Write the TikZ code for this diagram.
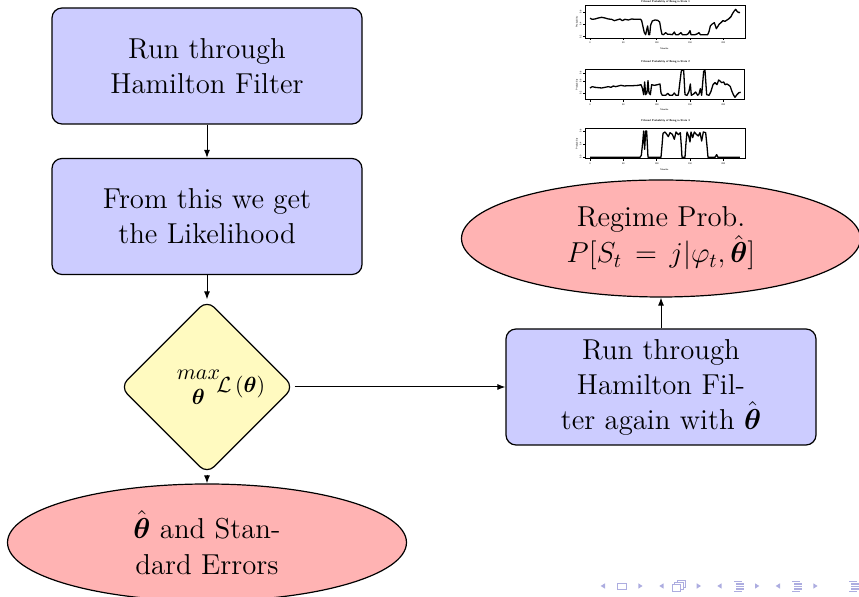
\documentclass[tikz,border=0pt]{standalone}
\usepackage{amsmath}
\usepackage{fontspec}
\usetikzlibrary{shapes.geometric,arrows.meta}
\definecolor{boxblue}{RGB}{204,204,255}
\definecolor{ellpink}{RGB}{255,179,179}
\definecolor{diayellow}{RGB}{255,250,192}
\definecolor{navcol}{RGB}{173,173,224}
\begin{document}
\begin{tikzpicture}[x=0.5pt,y=-0.5pt,
  procbox/.style={draw=black, line width=0.6pt, fill=boxblue, rounded corners=5pt,
    minimum width=155pt, minimum height=58pt, inner sep=0pt, align=center,
    font=\fontsize{14.4}{17.5}\selectfont},
  termell/.style={ellipse, draw=black, line width=0.6pt, fill=ellpink,
    minimum width=199.5pt, minimum height=58.5pt, inner sep=0pt, align=center,
    font=\fontsize{14.4}{18}\selectfont},
  decdia/.style={diamond, draw=black, line width=0.6pt, fill=diayellow, rounded corners=5pt,
    minimum width=87pt, minimum height=87pt, inner sep=0pt,
    font=\fontsize{10.5}{12}\selectfont},
  flow/.style={-{Latex[length=4pt,width=3pt]}, line width=0.5pt},
  rcurve/.style={line width=0.65pt, line join=round},
  rframe/.style={line width=0.3pt},
  rtitle/.style={font=\fontsize{1.35}{1.6}\selectfont\sffamily\bfseries, inner sep=0pt},
  rlab/.style={font=\fontsize{1.2}{1.4}\selectfont\sffamily, inner sep=0pt},
  navtri/.style={fill=navcol, draw=none}
]
\useasboundingbox (0,0) rectangle (859,597);

% ---------- flow chart nodes ----------
\node[procbox] (b1) at (207,66) {Run through\\Hamilton Filter};
\node[procbox] (b2) at (207,216.5) {From this we get\\the Likelihood};
\node[decdia] (d) at (207,387) {\makebox[0pt]{\hspace{14pt}$\begin{array}{@{}c@{}}max\\[0.5pt]\boldsymbol{\theta}\end{array}\!\mathcal{L}\left(\boldsymbol{\theta}\right)$}};
\node[termell] (e1) at (207,542.5) {$\hat{\boldsymbol{\theta}}$ and Stan-\\dard Errors};
\node[procbox] (b3) at (661,387) {Run through\\Hamilton Fil-\\ter again with $\hat{\boldsymbol{\theta}}$};
\node[termell] (e2) at (661,238.5) {Regime Prob.\\$P[S_t\,=\,j|\varphi_t,\hat{\boldsymbol{\theta}}]$};

\draw[flow] (b1) -- (b2);
\draw[flow] (b2) -- (d);
\draw[flow] (d) -- (e1);
\draw[flow] (d) -- (b3);
\draw[flow] (b3) -- (e2);

% ---------- plot 1 ----------
\begin{scope}[shift={(575,0)},scale=1/3]
  \draw[rframe] (30,17) rectangle (510,115);
  \draw[rcurve] plot coordinates {(45,55) (52,58) (60,57) (70,54) (80,52) (90,54) (100,57) (110,58) (118,62) (125,60) (135,57) (142,62) (150,58) (160,60) (170,57) (180,58) (190,58) (197,58) (200,62) (204,80) (208,98) (212,104) (215,90) (218,78) (221,104) (224,104) (227,75) (232,63) (240,60) (248,61) (254,66) (258,90) (261,103) (266,104) (272,98) (278,103) (285,103) (292,104) (298,96) (302,104) (310,104) (318,98) (322,104) (335,104) (340,101) (345,92) (348,104) (360,104) (366,102) (372,98) (376,104) (390,104) (398,104) (402,95) (406,78) (412,72) (418,68) (424,86) (428,80) (433,72) (438,68) (444,62) (450,64) (456,60) (462,56) (468,50) (472,42) (477,34) (482,28) (487,35) (492,38) (495,37)};
  \node[rtitle] (t1) at (272,5) {Filtered Probability of Being in State 1};
  \foreach \xx/\lab in {45/0,145/50,245/100,345/150,445/200} {
    \draw[rframe] (\xx,115) -- (\xx,121);
    \node[rlab] at (\xx,129) {\lab};
  }
  \foreach \yy/\lab in {37/0.6,73/0.4,110/0.2} {
    \draw[rframe] (30,\yy) -- (24,\yy);
    \node[rlab,rotate=90] at (17,\yy) {\lab};
  }
  \node[rlab] (m1) at (268,145) {Months};
  \node[rlab,rotate=90] (p1) at (6,66) {Probability};
\end{scope}

% ---------- plot 2 ----------
\begin{scope}[shift={(575,58)},scale=1/3]
  \draw[rframe] (30,35) rectangle (507,125);
  \draw[rcurve] plot coordinates {(45,90) (52,86) (60,88) (70,89) (80,90) (90,88) (100,86) (108,88) (115,84) (122,86) (130,84) (138,82) (148,84) (160,83) (175,83) (190,82) (198,80) (202,90) (206,110) (209,72) (212,110) (216,104) (219,68) (222,105) (226,110) (230,80) (238,82) (248,80) (255,78) (258,105) (262,112) (272,112) (278,106) (284,112) (292,112) (298,105) (303,112) (310,112) (315,70) (319,38) (326,37) (330,110) (336,112) (342,100) (346,78) (349,112) (356,108) (362,102) (368,112) (372,108) (376,92) (380,112) (386,40) (390,37) (395,110) (402,112) (408,100) (414,80) (420,74) (426,80) (431,66) (436,70) (440,74) (446,72) (450,80) (456,78) (462,82) (466,86) (470,98) (475,110) (480,118) (486,110) (492,104) (497,103)};
  \node[rtitle] (t2) at (272,12) {Filtered Probability of Being in State 2};
  \foreach \xx/\lab in {45/0,145/50,245/100,345/150,445/200} {
    \draw[rframe] (\xx,125) -- (\xx,131);
    \node[rlab] at (\xx,139) {\lab};
  }
  \foreach \yy/\lab in {45/0.8,70/0.6,105/0.2} {
    \draw[rframe] (30,\yy) -- (24,\yy);
    \node[rlab,rotate=90] at (17,\yy) {\lab};
  }
  \node[rlab] (m2) at (268,154) {Months};
  \node[rlab,rotate=90] (p2) at (6,80) {Probability};
\end{scope}

% ---------- plot 3 ----------
\begin{scope}[shift={(575,116)},scale=1/3]
  \draw[rframe] (30,38) rectangle (510,128);
  \draw[rcurve] plot coordinates {(45,124) (195,124) (199,118) (203,80) (206,45) (209,100) (212,45) (215,45) (219,124) (258,124) (261,90) (264,52) (270,48) (276,56) (280,62) (285,50) (292,55) (298,70) (303,48) (310,56) (316,50) (319,90) (321,124) (330,124) (333,80) (336,48) (341,60) (345,78) (348,48) (353,65) (358,48) (364,55) (370,60) (375,50) (380,75) (385,48) (392,50) (396,90) (399,124) (420,124) (425,116) (429,124) (495,124)};
  \node[rtitle] (t3) at (272,15) {Filtered Probability of Being in State 3};
  \foreach \xx/\lab in {45/0,145/50,245/100,345/150,445/200} {
    \draw[rframe] (\xx,128) -- (\xx,134);
    \node[rlab] at (\xx,143) {\lab};
  }
  \foreach \yy/\lab in {45/0.8,85/0.4,123/0.0} {
    \draw[rframe] (30,\yy) -- (24,\yy);
    \node[rlab,rotate=90] at (17,\yy) {\lab};
  }
  \node[rlab] (m3) at (268,162) {Months};
  \node[rlab,rotate=90] (p3) at (6,83) {Probability};
\end{scope}

% ---------- navigation symbols ----------
\foreach \xx in {600.7,659.3,717.3,775.7}
  \fill[navtri] (\xx,586) -- (\xx+4.3,583.3) -- (\xx+4.3,588.7) -- cycle;
\foreach \xx in {638.3,696.7,755,813.3}
  \fill[navtri] (\xx+4.3,586) -- (\xx,583.3) -- (\xx,588.7) -- cycle;
\draw[navcol, line width=0.5pt] (617.8,583.3) rectangle (626.2,589.3);
% frame icon (stacked pages)
\draw[navcol, line width=0.5pt, fill=white] (677,580.5) rectangle (685.5,587.5);
\draw[navcol, line width=0.5pt, fill=white] (674.5,582.5) rectangle (683,589.5);
\draw[navcol, line width=0.5pt, fill=white] (672,584.5) rectangle (680.5,591.5);
% section icon
\foreach \yy/\xa/\xb in {581.5/734/742, 584/736/744, 586.5/736/744, 589/736/744, 591.5/734/742}
  \draw[navcol, line width=0.6pt] (\xa,\yy) -- (\xb,\yy);
% subsection icon
\foreach \yy/\xa/\xb in {581.5/792/800, 584/794/802, 586.5/794/802, 589/794/802, 591.5/792/800}
  \draw[navcol, line width=0.6pt] (\xa,\yy) -- (\xb,\yy);
% appendix icon
\foreach \yy/\xa/\xb in {581.5/849/857, 584/851/859, 586.5/851/859, 589/851/859, 591.5/849/857}
  \draw[navcol, line width=0.6pt] (\xa,\yy) -- (\xb,\yy);
\end{tikzpicture}
\end{document}
